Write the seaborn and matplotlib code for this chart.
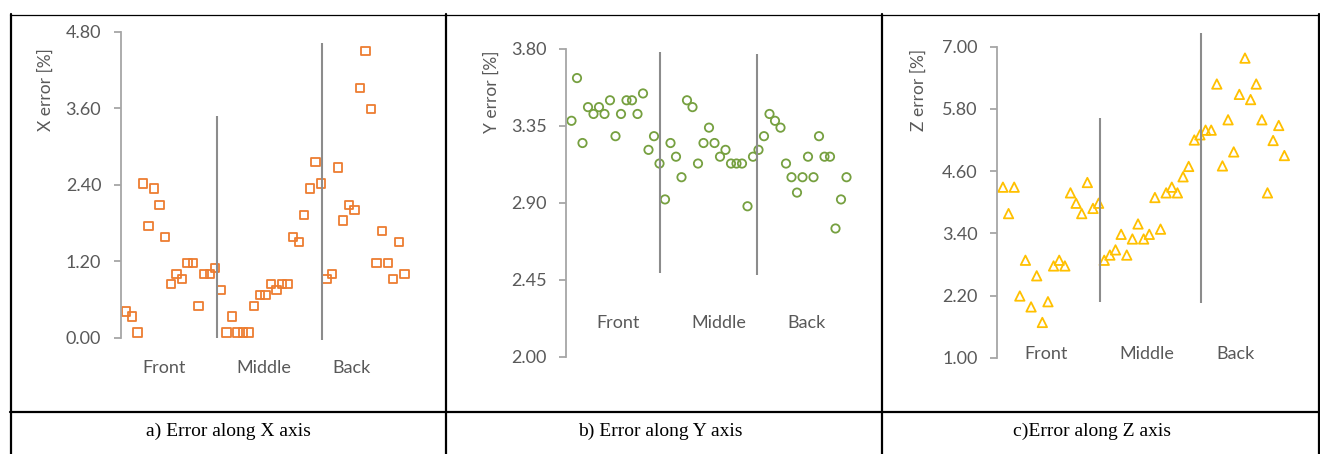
import numpy as np
import pandas as pd
import seaborn as sns
import matplotlib.pyplot as plt
from matplotlib.lines import Line2D

# measurement index (1..51) shared by the three panels
n_points = 51

x_error = [0.41, 0.33, 0.08, 2.42, 1.75, 2.34, 2.08, 1.58, 0.84, 1.00,
           0.92, 1.17, 1.17, 0.50, 1.00, 1.00, 1.09, 0.75, 0.08, 0.33,
           0.08, 0.08, 0.08, 0.50, 0.67, 0.67, 0.84, 0.75, 0.84, 0.84,
           1.58, 1.50, 1.92, 2.34, 2.76, 2.42, 0.92, 1.00, 2.67, 1.84,
           2.08, 2.00, 3.92, 4.50, 3.59, 1.17, 1.67, 1.17, 0.92, 1.50,
           1.00]
y_error = [3.38, 3.63, 3.25, 3.46, 3.42, 3.46, 3.42, 3.50, 3.29, 3.42,
           3.50, 3.50, 3.42, 3.54, 3.21, 3.29, 3.13, 2.92, 3.25, 3.17,
           3.05, 3.50, 3.46, 3.13, 3.25, 3.34, 3.25, 3.17, 3.21, 3.13,
           3.13, 3.13, 2.88, 3.17, 3.21, 3.29, 3.42, 3.38, 3.34, 3.13,
           3.05, 2.96, 3.05, 3.17, 3.05, 3.29, 3.17, 3.17, 2.75, 2.92,
           3.05]
z_error = [4.29, 3.78, 4.29, 2.19, 2.88, 1.98, 2.58, 1.68, 2.08, 2.77,
           2.88, 2.77, 4.18, 3.98, 3.78, 4.38, 3.88, 3.98, 2.88, 2.98,
           3.08, 3.38, 2.98, 3.29, 3.58, 3.29, 3.38, 4.09, 3.48, 4.18,
           4.29, 4.18, 4.49, 4.69, 5.20, 5.30, 5.39, 5.39, 6.28, 4.70,
           5.59, 4.97, 6.08, 6.78, 5.98, 6.28, 5.59, 4.18, 5.19, 5.48,
           4.90]

regions = ["Front", "Middle", "Back"]

# separator lines between regions: (x, y_bottom, y_top) per panel
x_separators = [(17.3, 0.0, 3.47), (36.2, -0.03, 4.62)]
y_separators = [(17.0, 2.49, 3.78), (34.8, 2.48, 3.77)]
z_separators = [(18.3, 2.08, 5.62), (36.2, 2.06, 7.26)]

# region label anchors (x centre) and height per panel
x_label_pos, x_label_y = [7.8, 25.7, 41.5], -0.47
y_label_pos, y_label_y = [9.5, 27.7, 43.8], 2.195
z_label_pos, z_label_y = [8.6, 26.6, 42.4], 1.08

x_ticks = [0.0, 1.2, 2.4, 3.6, 4.8]
y_ticks = [2.00, 2.45, 2.90, 3.35, 3.80]
z_ticks = [1.0, 2.2, 3.4, 4.6, 5.8, 7.0]

captions = ["a) Error along X axis", "b) Error along Y axis", "c)Error along Z axis"]

sns.set_style("white")
plt.rcParams['font.family'] = ['Lato', 'DejaVu Sans']

W, H = 1320, 454
fig = plt.figure(figsize=(W / 100, H / 100), dpi=100)


def px_box(left, top, right, bottom):
    return [left / W, 1 - bottom / H, (right - left) / W, (bottom - top) / H]


panels = [
    dict(box=px_box(120.7, 31.7, 410, 337.7), vals=x_error, marker="s", color="#ED7D31",
         size=36, seps=x_separators, lab_x=x_label_pos, lab_y=x_label_y, ticks=x_ticks,
         ylabel="X error [%]", ylab_pos=(-75, 0.81)),
    dict(box=px_box(566, 49, 852, 356.7), vals=y_error, marker="o", color="#76A040",
         size=36, seps=y_separators, lab_x=y_label_pos, lab_y=y_label_y, ticks=y_ticks,
         ylabel="Y error [%]", ylab_pos=(-74, 0.861)),
    dict(box=px_box(997.3, 46.7, 1290, 357.7), vals=z_error, marker="^", color="#FFC000",
         size=46, seps=z_separators, lab_x=z_label_pos, lab_y=z_label_y, ticks=z_ticks,
         ylabel="Z error [%]", ylab_pos=(-79, 0.861)),
]

text_grey = "#595959"
axis_grey = "#A6A6A6"
sep_grey = "#8C8C8C"

for p in panels:
    ax = fig.add_axes(p["box"])
    df = pd.DataFrame({"idx": np.arange(1, n_points + 1), "err": p["vals"]})
    sns.scatterplot(data=df, x="idx", y="err", marker=p["marker"], s=p["size"],
                    facecolors="none", edgecolors=p["color"], linewidths=1.3, ax=ax)
    for xs, y0, y1 in p["seps"]:
        ax.vlines(xs, y0, y1, color=sep_grey, lw=1.5, clip_on=False, zorder=1)
    for name, lx in zip(regions, p["lab_x"]):
        ax.text(lx, p["lab_y"], name, ha="center", va="center", fontsize=13,
                color=text_grey, clip_on=False)
    ax.set_xlim(0, 52)
    ax.set_ylim(p["ticks"][0], p["ticks"][-1])
    ax.set_yticks(p["ticks"])
    ax.set_yticklabels([f"{t:.2f}" for t in p["ticks"]])
    ax.set_xticks([])
    ax.set_xlabel("")
    ax.set_ylabel("")
    for side in ["top", "right", "bottom"]:
        ax.spines[side].set_visible(False)
    ax.spines["left"].set_color(axis_grey)
    ax.spines["left"].set_linewidth(1.3)
    ax.tick_params(axis="y", direction="out", length=5, width=1.3, color=axis_grey,
                   labelsize=13, labelcolor=text_grey, pad=9, left=True)
    ax.patch.set_alpha(0)
    ax.annotate(p["ylabel"], xy=(0, p["ylab_pos"][1]), xycoords="axes fraction",
                xytext=(p["ylab_pos"][0] * 0.72, 0), textcoords="offset points",
                rotation=90, ha="center", va="center", fontsize=12.5, color=text_grey)

# table borders around the panels
def hline(y, x0, x1, lw):
    fig.add_artist(Line2D([x0 / W, x1 / W], [1 - y / H, 1 - y / H], color="black", lw=lw))


def vline(x, y0, y1, lw):
    fig.add_artist(Line2D([x / W, x / W], [1 - y0 / H, 1 - y1 / H], color="black", lw=lw))


hline(14.5, 10, 1319, 0.9)
hline(412, 10, 1319, 1.6)
for xv in [11, 445.5, 882, 1318.5]:
    vline(xv, 14, 454, 1.6)

for cap, cx in zip(captions, [228, 660, 1092]):
    fig.text(cx / W, 1 - 431 / H, cap, ha="center", va="center", fontsize=14,
             family=["Liberation Serif", "DejaVu Serif"], color="black")

fig.savefig("out.png", dpi=100)
